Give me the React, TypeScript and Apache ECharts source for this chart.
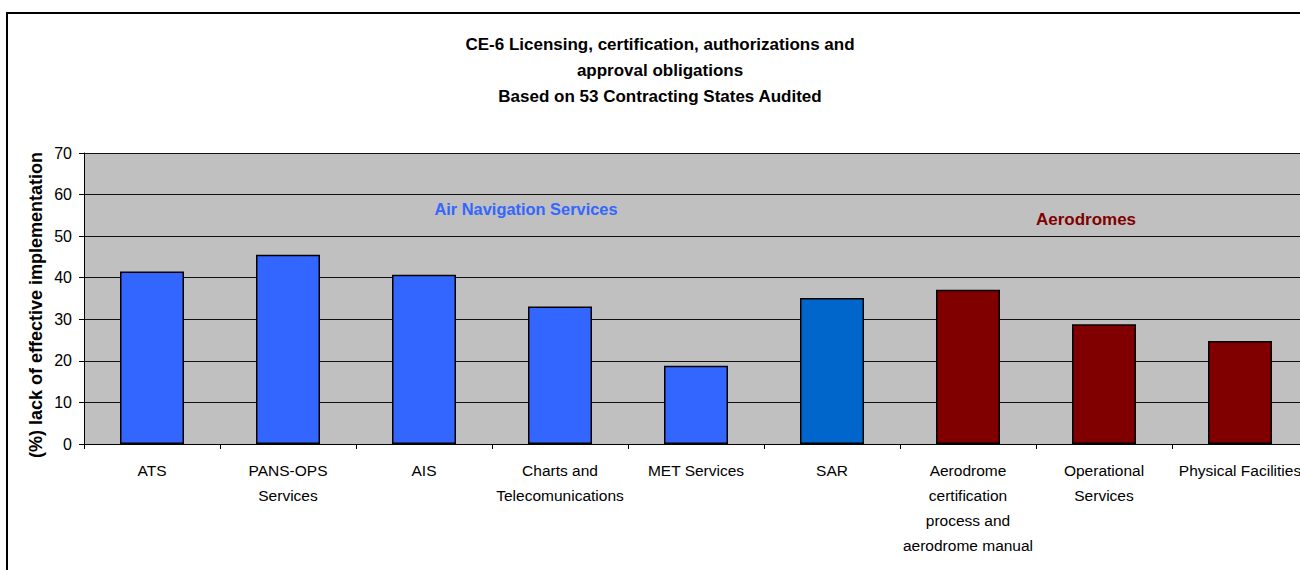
import React, { useEffect, useRef } from "react";
import * as echarts from "echarts";

const TITLE = "CE-6 Licensing, certification, authorizations and\napproval obligations\nBased on 53 Contracting States Audited";
const Y_NAME = "(%) lack of effective implementation";

const categories = [
  "ATS",
  "PANS-OPS\nServices",
  "AIS",
  "Charts and\nTelecomunications",
  "MET Services",
  "SAR",
  "Aerodrome\ncertification\nprocess and\naerodrome manual",
  "Operational\nServices",
  "Physical Facilities",
];
const values = [41.5, 45.5, 40.7, 33.1, 18.8, 35.1, 37.1, 28.8, 24.8];
const barColors = ["#3366FF", "#3366FF", "#3366FF", "#3366FF", "#3366FF", "#0066CC", "#800000", "#800000", "#800000"];
const yTicks = { min: 0, max: 70, interval: 10 };
const groupLabels = ["Air Navigation Services", "Aerodromes"];
const groupColors = ["#3366FF", "#800000"];

export default function App() {
  const ref = useRef<HTMLDivElement>(null);
  useEffect(() => {
    if (!ref.current) return;
    const chart = echarts.init(ref.current, undefined, { renderer: "svg" });
    const font = "Liberation Sans, Arial, sans-serif";
    chart.setOption({
      animation: false,
      backgroundColor: "#FFFFFF",
      textStyle: { fontFamily: font },
      title: {
        text: TITLE,
        left: "center",
        top: 26,
        textStyle: { fontSize: 17, fontWeight: "bold", color: "#000", lineHeight: 26, fontFamily: font },
      },
      grid: {
        left: 84,
        top: 153,
        width: 1224,
        height: 291,
        show: true,
        backgroundColor: "#C0C0C0",
        borderWidth: 0,
      },
      xAxis: {
        type: "category",
        data: categories,
        axisLine: { show: true, lineStyle: { color: "#000", width: 1 } },
        axisTick: { show: true, length: 5, lineStyle: { color: "#000" } },
        axisLabel: { interval: 0, fontSize: 15.5, lineHeight: 25, color: "#000", margin: 14, fontFamily: font },
      },
      yAxis: {
        type: "value",
        min: yTicks.min,
        max: yTicks.max,
        interval: yTicks.interval,
        axisLine: { show: true, lineStyle: { color: "#000", width: 1 } },
        axisTick: { show: true, length: 5, lineStyle: { color: "#000" } },
        axisLabel: { fontSize: 16, color: "#000", margin: 12, fontFamily: font },
        splitLine: { show: true, lineStyle: { color: "#111", width: 1 } },
      },
      graphic: [
        {
          type: "rect",
          shape: { x: 7, y: 13, width: 1400, height: 700 },
          style: { fill: "none", stroke: "#000", lineWidth: 2 },
          z: 100,
        },
        {
          type: "text",
          x: 36,
          y: 305,
          rotation: Math.PI / 2,
          style: { text: Y_NAME, fill: "#000", font: "bold 18px " + font, textAlign: "center", textVerticalAlign: "middle" },
          z: 50,
        },
        {
          type: "text",
          x: 526,
          y: 209,
          style: { text: groupLabels[0], fill: groupColors[0], font: "bold 16.4px " + font, textAlign: "center", textVerticalAlign: "middle" },
          z: 50,
        },
        {
          type: "text",
          x: 1086,
          y: 219,
          style: { text: groupLabels[1], fill: groupColors[1], font: "bold 17px " + font, textAlign: "center", textVerticalAlign: "middle" },
          z: 50,
        },
      ],
      series: [
        {
          type: "bar",
          barWidth: 64,
          data: values.map((v, i) => ({
            value: v,
            itemStyle: { color: barColors[i], borderColor: "#000", borderWidth: 1.5 },
          })),
        },
      ],
    });
    return () => chart.dispose();
  }, []);
  return (
    <div style={{ position: "fixed", left: 0, top: 0, width: 1300, height: 570, overflow: "hidden", background: "#fff" }}>
      <div ref={ref} style={{ width: 1320, height: 570 }} />
    </div>
  );
}
